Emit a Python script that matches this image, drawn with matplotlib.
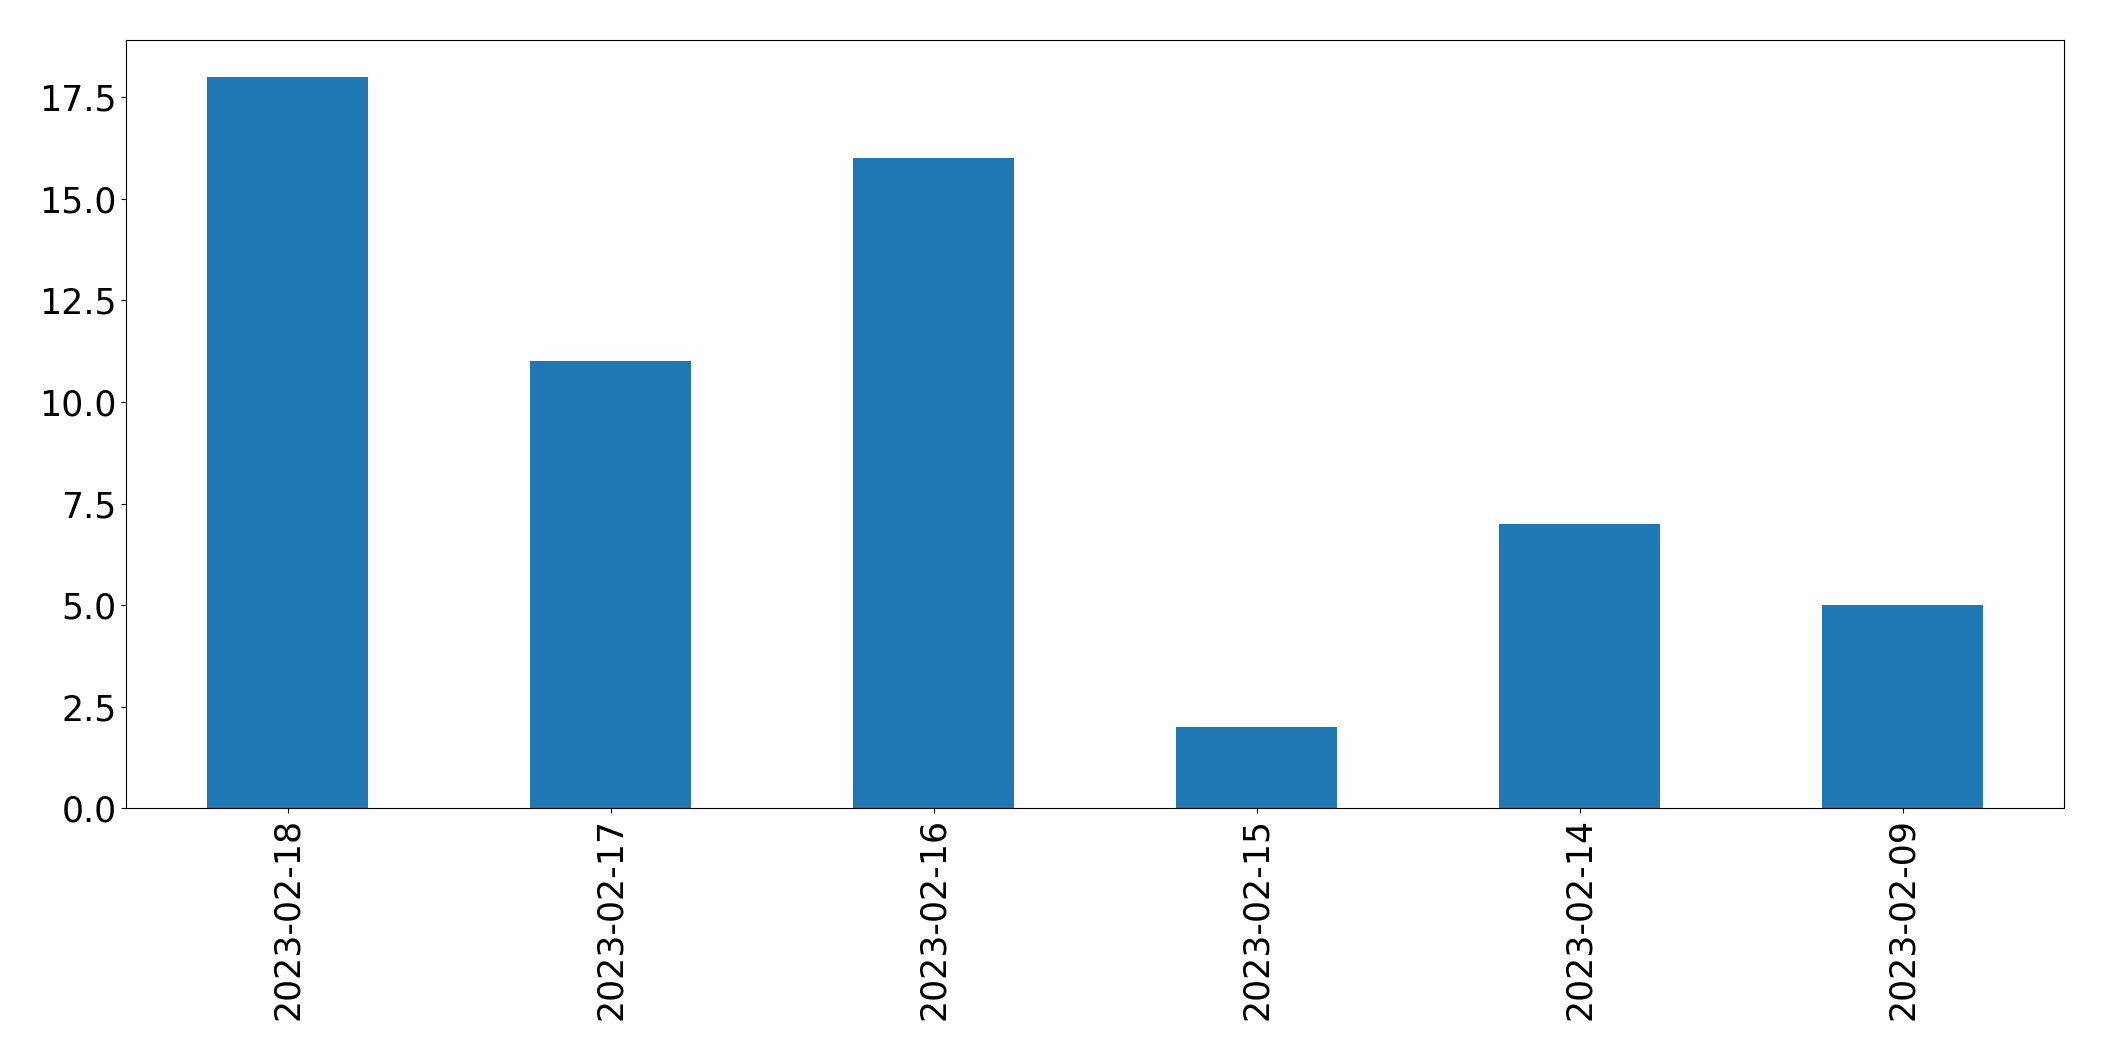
import matplotlib
matplotlib.use('Agg')
import matplotlib.pyplot as plt
import pandas as pd

dates = ['2023-02-18', '2023-02-17', '2023-02-16', '2023-02-15', '2023-02-14', '2023-02-09']
counts = [18, 11, 16, 2, 7, 5]

s = pd.Series(counts, index=dates)

fig = plt.figure(figsize=(21.04, 10.61), dpi=100)
ax = s.plot(kind='bar', color='#1f77b4', fontsize=25)
plt.subplots_adjust(left=0.060, right=0.981, top=0.962, bottom=0.238)
plt.savefig('out.png', dpi=100)
